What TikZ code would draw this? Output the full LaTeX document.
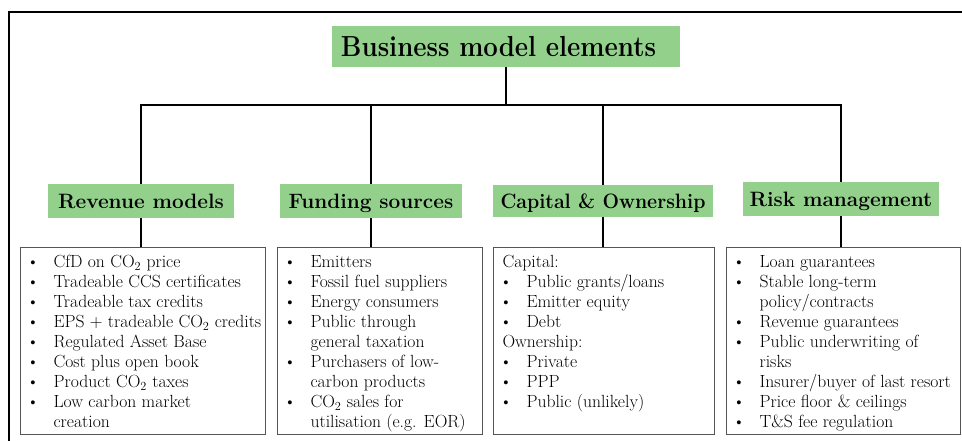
\documentclass[tikz,border=0pt]{standalone}
\usepackage{graphicx}
\definecolor{hdrgreen}{RGB}{146,208,140}
\definecolor{boxgray}{RGB}{85,85,85}
\newcommand{\bitem}[1]{\noindent\makebox[33pt][l]{\hspace{6pt}\textbullet}#1\par}
\newcommand{\bcont}[1]{\noindent\hspace*{33pt}#1\par}
\newcommand{\bhead}[1]{\noindent\hspace*{9pt}#1\par}
\newcommand{\topstrut}{\rule{0pt}{20pt}}
\newcommand{\cotwo}{CO\textsubscript{2}}
\newcommand{\bodyfont}{\fontsize{17.6}{20}\selectfont\raggedright}
\begin{document}
\begin{tikzpicture}[x=1pt,y=-1pt,
  hdr/.style={fill=hdrgreen, inner sep=0pt, text height=14.5pt, text depth=0pt,
              font=\fontsize{20.8}{25}\selectfont\bfseries},
  cbox/.style={draw=boxgray, line width=1.1pt, inner sep=0pt, anchor=north west},
  conn/.style={line width=2.8pt, black},
  outerframe/.style={line width=2.5pt, black}]
\useasboundingbox (0,0) rectangle (962,441);
\draw[outerframe] (9,443) -- (9,12) -- (964,12);

% title
\node[hdr, minimum width=348pt, minimum height=41pt, text height=20pt,
      font=\fontsize{29}{34}\selectfont\bfseries] (title) at (506,46.5)
      {\scalebox{0.89}[1]{Business model elements}\kern15pt};

% headers
\node[hdr, minimum width=186pt, minimum height=34pt] (h1) at (141,201) {Revenue models};
\node[hdr, minimum width=182pt, minimum height=34pt] (h2) at (371,201) {Funding sources};
\node[hdr, minimum width=220pt, minimum height=32pt] (h3) at (603,201) {\scalebox{0.94}[1]{Capital \& Ownership}};
\node[hdr, minimum width=196pt, minimum height=34pt] (h4) at (841,199) {Risk management};

% content boxes
\node[cbox] (c1) at (20,247) {\parbox[t][187pt][t]{245pt}{\bodyfont
\bitem{\topstrut CfD on \cotwo{} price}
\bitem{Tradeable CCS certificates}
\bitem{Tradeable tax credits}
\bitem{EPS + tradeable \cotwo{} credits}
\bitem{Regulated Asset Base}
\bitem{Cost plus open book}
\bitem{Product \cotwo{} taxes}
\bitem{Low carbon market}
\bcont{creation}}};

\node[cbox] (c2) at (277,247) {\parbox[t][187pt][t]{205pt}{\bodyfont
\bitem{\topstrut Emitters}
\bitem{Fossil fuel suppliers}
\bitem{Energy consumers}
\bitem{Public through}
\bcont{general taxation}
\bitem{Purchasers of low-}
\bcont{carbon products}
\bitem{\cotwo{} sales for}
\bcont{utilisation (e.g. EOR)}}};

\node[cbox] (c3) at (493,247) {\parbox[t][187pt][t]{221pt}{\bodyfont
\bhead{\topstrut Capital:}
\bitem{Public grants/loans}
\bitem{Emitter equity}
\bitem{Debt}
\bhead{Ownership:}
\bitem{Private}
\bitem{PPP}
\bitem{Public (unlikely)}}};

\node[cbox] (c4) at (726,247) {\parbox[t][187pt][t]{234pt}{\bodyfont
\bitem{\topstrut Loan guarantees}
\bitem{Stable long-term}
\bcont{policy/contracts}
\bitem{Revenue guarantees}
\bitem{Public underwriting of}
\bcont{risks}
\bitem{Insurer/buyer of last resort}
\bitem{Price floor \& ceilings}
\bitem{T\&S fee regulation}}};

% connectors
\coordinate (bar) at (0,105);
\draw[conn] (title.south) -- (title.south |- bar);
\draw[conn] (h1.north) -- (h1.north |- bar) -- (h4.north |- bar) -- (h4.north);
\draw[conn] (h2.north |- bar) -- (h2.north);
\draw[conn] (h3.north |- bar) -- (h3.north);
\draw[conn] (h1.south) -- (h1.south |- c1.north);
\draw[conn] (h2.south) -- (h2.south |- c2.north);
\draw[conn] (h3.south) -- (h3.south |- c3.north);
\draw[conn] (h4.south) -- (h4.south |- c4.north);
\end{tikzpicture}
\end{document}
